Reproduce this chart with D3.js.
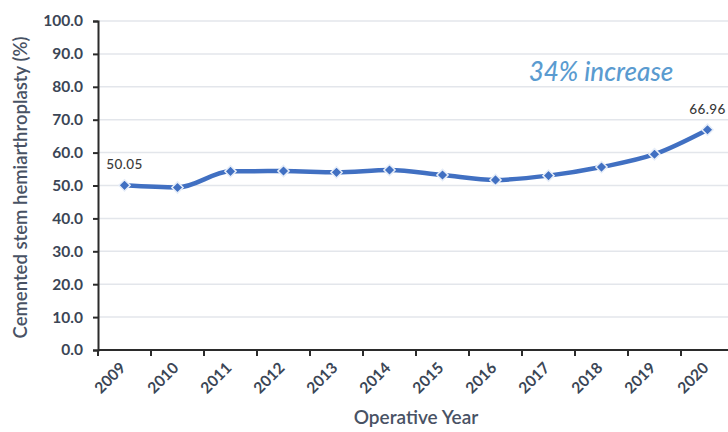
<!DOCTYPE html>
<html>
<head>
<meta charset="utf-8">
<script src="https://cdn.jsdelivr.net/npm/d3@7"></script>
<style>
  html, body { margin: 0; padding: 0; background: #fff; }
  svg { display: block; font-family: Lato, "Open Sans", sans-serif; }
</style>
</head>
<body>
<svg id="chart" width="728" height="432"></svg>
<script>
// Cemented stem hemiarthroplasty share by operative year
const years = ["2009","2010","2011","2012","2013","2014","2015","2016","2017","2018","2019","2020"];
const cementedPct = [50.05, 49.4, 54.3, 54.4, 54.0, 54.7, 53.2, 51.7, 53.0, 55.6, 59.5, 66.96];
const yTicks = [0, 10, 20, 30, 40, 50, 60, 70, 80, 90, 100];
const labelledYears = ["2009", "2020"];
const annotationText = "34% increase";

const svg = d3.select("#chart");
const margin = { left: 98, right: -6, top: 21, bottom: 82 };
const W = 728, H = 432;

const x = d3.scaleBand().domain(years).range([margin.left, W - margin.right]);
const y = d3.scaleLinear().domain([0, 100]).range([H - margin.bottom, margin.top]);

const ink = "#3b4656";

// gridlines
svg.append("g")
  .selectAll("line")
  .data(yTicks.filter(d => d > 0))
  .join("line")
  .attr("x1", margin.left).attr("x2", W)
  .attr("y1", d => y(d)).attr("y2", d => y(d))
  .attr("stroke", "#e3e6eb").attr("stroke-width", 1.5);

// y axis
const yAxis = svg.append("g")
  .attr("transform", `translate(${margin.left},0)`)
  .call(d3.axisLeft(y).tickValues(yTicks).tickFormat(d3.format(".1f")).tickSize(5).tickPadding(10));
yAxis.select(".domain").attr("stroke", "#2b2b2b").attr("stroke-width", 2);
yAxis.selectAll(".tick line").attr("stroke", "#2b2b2b").attr("stroke-width", 2);
yAxis.selectAll(".tick text")
  .attr("fill", ink).attr("font-size", 15.5).attr("font-weight", 700)
  .attr("font-family", "Lato, sans-serif");

// x axis with ticks on band boundaries
const xAxisG = svg.append("g").attr("transform", `translate(0,${y(0)})`);
xAxisG.append("line")
  .attr("x1", margin.left).attr("x2", W)
  .attr("stroke", "#2b2b2b").attr("stroke-width", 2);
xAxisG.selectAll("line.tk")
  .data(years)
  .join("line").attr("class", "tk")
  .attr("x1", d => x(d)).attr("x2", d => x(d))
  .attr("y1", 0).attr("y2", 6)
  .attr("stroke", "#2b2b2b").attr("stroke-width", 2);
xAxisG.selectAll("text")
  .data(years)
  .join("text")
  .attr("transform", d => `translate(${x(d) + x.bandwidth() / 2 + 2},19) rotate(-45)`)
  .attr("text-anchor", "end")
  .attr("fill", ink).attr("font-size", 15.5).attr("font-weight", 700)
  .text(d => d);

// axis titles
svg.append("text")
  .attr("x", 416).attr("y", 424)
  .attr("text-anchor", "middle")
  .attr("fill", "#485264").attr("font-size", 19).attr("font-weight", 600)
  .text("Operative Year");

svg.append("text")
  .attr("transform", `translate(27,${(y(0) + y(100)) / 2 + 2}) rotate(-90)`)
  .attr("text-anchor", "middle")
  .attr("fill", "#485264").attr("font-size", 18.5).attr("font-weight", 600)
  .text("Cemented stem hemiarthroplasty (%)");

// series line
const pts = years.map((yr, i) => ({ yr, v: cementedPct[i] }));
const cx = d => x(d.yr) + x.bandwidth() / 2;
const line = d3.line().x(cx).y(d => y(d.v)).curve(d3.curveMonotoneX);

svg.append("path")
  .datum(pts)
  .attr("d", line)
  .attr("fill", "none")
  .attr("stroke", "#4170c2")
  .attr("stroke-width", 4.5)
  .attr("stroke-linejoin", "round");

svg.append("g")
  .selectAll("path")
  .data(pts)
  .join("path")
  .attr("transform", d => `translate(${cx(d)},${y(d.v)})`)
  .attr("d", d3.symbol(d3.symbolDiamond2, 80))
  .attr("fill", "#4170c2")
  .attr("stroke", "#e6edf8").attr("stroke-width", 1.5);

// value labels on first and last points
svg.append("g")
  .selectAll("text")
  .data(pts.filter(d => labelledYears.includes(d.yr)))
  .join("text")
  .attr("x", cx).attr("y", d => y(d.v) - 16)
  .attr("text-anchor", "middle")
  .attr("fill", "#3a3a3a").attr("font-size", 13.5).attr("font-weight", 500)
  .attr("letter-spacing", 0.4)
  .attr("font-family", "Lato, sans-serif")
  .text(d => d.v.toFixed(2));

// annotation
svg.append("text")
  .attr("x", 601).attr("y", 81)
  .attr("text-anchor", "middle")
  .attr("fill", "#5a9bd0").attr("font-size", 26).attr("font-style", "italic")
  .attr("font-weight", 500)
  .text(annotationText);
</script>
</body>
</html>
